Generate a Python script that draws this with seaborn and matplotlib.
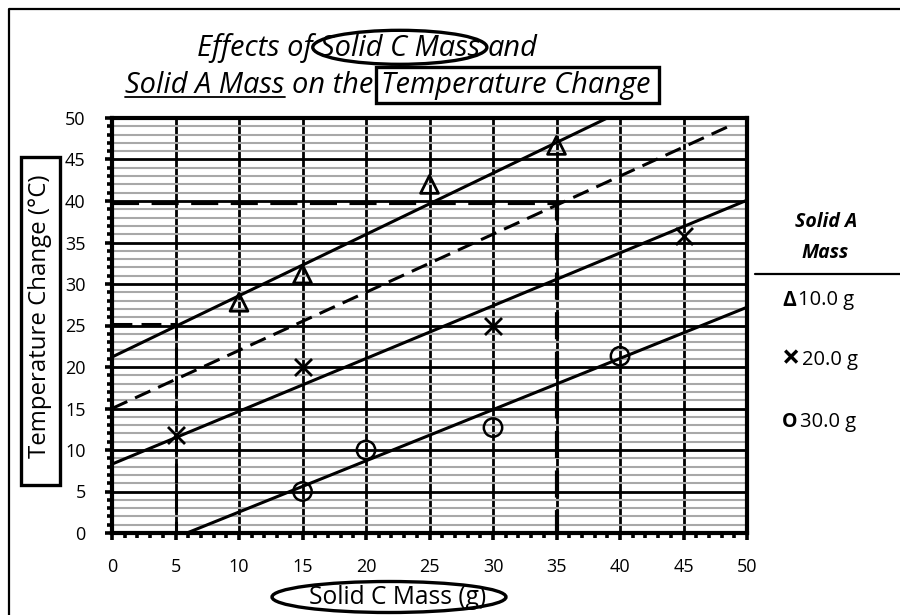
import numpy as np
import pandas as pd
import matplotlib
matplotlib.use("Agg")
import matplotlib.pyplot as plt
import seaborn as sns
from matplotlib.patches import Ellipse, Rectangle
from matplotlib.lines import Line2D
from matplotlib.ticker import MultipleLocator

# ---------------- data ----------------
series_labels = ["10.0 g", "20.0 g", "30.0 g"]
legend_symbols = ["\u0394", "\u00d7", "O"]

x_10g = [10, 15, 25, 35]
y_10g = [27.8, 31.2, 42.0, 46.7]
x_20g = [5, 15, 30, 45]
y_20g = [11.8, 20.0, 25.0, 35.8]
x_30g = [15, 20, 30, 40]
y_30g = [5.0, 10.0, 12.7, 21.3]

# trend lines (end points)
trend_10g_x = [0, 39.0]
trend_10g_y = [21.2, 50.0]
trend_20g_x = [0, 50.0]
trend_20g_y = [8.3, 40.1]
trend_30g_x = [5.9, 50.0]
trend_30g_y = [0.0, 27.2]
trend_15g_x = [0, 49.0]
trend_15g_y = [15.0, 49.3]

# reference (read-off) dashed lines
ref_main_x = [0, 35, 35]
ref_main_y = [39.7, 39.7, 0]
ref_small_x = [0, 5, 5]
ref_small_y = [25.2, 25.2, 0]

x_ticks = list(range(0, 55, 5))
y_ticks = list(range(0, 55, 5))

title_line1 = [("Effects of", None), ("Solid C Mass", "ellipse"), ("and", None)]
title_line2 = [("Solid A Mass", "underline"), ("on the", None), ("Temperature Change", "box")]
x_label = "Solid C Mass (g)"
y_label = "Temperature Change (\u00b0C)"
legend_title = ["Solid A", "Mass"]

# ---------------- figure ----------------
W, H = 900, 615
sns.set_theme(style="white")
plt.rcParams["font.family"] = ["Open Sans", "DejaVu Sans"]

fig = plt.figure(figsize=(W / 100, H / 100), dpi=100)
ax = fig.add_axes([112 / W, 1 - 533 / H, 635 / W, 415 / H])

def fx(px):
    return px / W

def fy(py_top):
    return 1 - py_top / H

# trend lines
for tx, ty, dashed in [(trend_10g_x, trend_10g_y, False),
                       (trend_20g_x, trend_20g_y, False),
                       (trend_30g_x, trend_30g_y, False),
                       (trend_15g_x, trend_15g_y, True)]:
    df = pd.DataFrame({"x": tx, "y": ty})
    sns.lineplot(data=df, x="x", y="y", color="black", lw=2.2,
                 estimator=None, sort=False, ax=ax, zorder=4)
    if dashed:
        ax.lines[-1].set_dashes((5.5, 2.8))

# reference dashed lines
ax.plot(ref_main_x, ref_main_y, color="black", lw=3.0, dashes=(6.5, 3.0),
        zorder=3.5, dash_capstyle="butt")
ax.plot(ref_small_x, ref_small_y, color="black", lw=2.2, dashes=(6.5, 3.0),
        zorder=3.5, dash_capstyle="butt")

# points
sns.scatterplot(x=x_10g, y=y_10g, marker="^", s=165, ax=ax, zorder=6)
c = ax.collections[-1]
c.set_facecolor("none"); c.set_edgecolor("black"); c.set_linewidth(2.0)

sns.scatterplot(x=x_20g, y=y_20g, marker="x", s=150, ax=ax, zorder=6)
c = ax.collections[-1]
c.set_facecolor("black"); c.set_edgecolor("black"); c.set_linewidth(2.0)

sns.scatterplot(x=x_30g, y=y_30g, marker="o", s=175, ax=ax, zorder=6)
c = ax.collections[-1]
c.set_facecolor("none"); c.set_edgecolor("black"); c.set_linewidth(1.8)

# axes
ax.set_xlim(0, 50)
ax.set_ylim(0, 50)
ax.set_xticks(x_ticks)
ax.set_yticks(y_ticks)
ax.set_xticklabels([str(v) for v in x_ticks])
ax.set_yticklabels([str(v) for v in y_ticks])
ax.xaxis.set_minor_locator(MultipleLocator(1))
ax.yaxis.set_minor_locator(MultipleLocator(1))
ax.set_xlabel("")
ax.set_ylabel("")
ax.tick_params(which="major", direction="out", length=5, width=2.6,
               color="black", labelsize=13, labelcolor="black")
ax.tick_params(which="minor", direction="out", length=3.5, width=2.6, color="black")
ax.tick_params(axis="y", which="major", pad=14)
ax.tick_params(axis="x", which="major", pad=13)
ax.tick_params(axis="x", which="both", bottom=True)
ax.tick_params(axis="y", which="both", left=True)

ax.grid(which="major", axis="both", color="black", lw=2.0)
ax.yaxis.grid(which="minor", color="#a8a8a8", lw=1.5)
ax.xaxis.grid(which="minor", visible=False)
ax.set_axisbelow(True)
for sp in ax.spines.values():
    sp.set_visible(True)
    sp.set_color("black")
    sp.set_linewidth(3.0)

# ---------------- text helpers ----------------
renderer = fig.canvas.get_renderer()

def text_w(s, **kw):
    t = fig.text(0, 0, s, **kw)
    w = t.get_window_extent(renderer).width
    t.remove()
    return w

def fit_size(s, target, base=14, **kw):
    return base * target / text_w(s, fontsize=base, **kw)

# ---------------- title ----------------
fs_title = fit_size("Effects of Solid C Mass and", 342, fontstyle="italic")

def place_line(pieces, cx, y_base, fs):
    kw = dict(fontsize=fs, fontstyle="italic", color="black")
    widths = [text_w(p, **kw) for p, _ in pieces]
    sp = text_w("a a", **kw) - text_w("aa", **kw)
    total = sum(widths) + sp * (len(pieces) - 1)
    x = cx - total / 2
    for (p, deco), w in zip(pieces, widths):
        t = fig.text(fx(x), fy(y_base), p, ha="left", va="baseline", **kw)
        bb = t.get_window_extent(renderer)
        if deco == "ellipse":
            cxp = (bb.x0 + bb.x1) / 2
            cyp = H - y_base + fs * 1.389 * 0.30
            e = Ellipse((fx(cxp), cyp / H), (bb.width + 14) / W, 34 / H,
                        transform=fig.transFigure, fill=False, ec="black", lw=2.4)
            fig.add_artist(e)
        elif deco == "underline":
            yy = (H - y_base - 4) / H
            fig.add_artist(Line2D([fx(bb.x0), fx(bb.x1)], [yy, yy],
                                  transform=fig.transFigure, color="black", lw=1.3))
        elif deco == "box":
            top = 67; bot = 103
            fig.add_artist(Rectangle((fx(bb.x0 - 5), fy(bot)), (bb.width + 13) / W,
                                     (bot - top) / H, transform=fig.transFigure,
                                     fill=False, ec="black", lw=2.4))
        x += w + sp

place_line(title_line1, 367, 56, fs_title)
place_line(title_line2, 388, 93, fs_title)

# ---------------- y label ----------------
fs_y = fit_size(y_label, 285)
fig.text(fx(40), fy(316), y_label, rotation=90, ha="center", va="center",
         fontsize=fs_y, color="black")
fig.add_artist(Rectangle((fx(21), fy(485)), 39 / W, 328 / H, transform=fig.transFigure,
                         fill=False, ec="black", lw=2.4))

# ---------------- x label ----------------
fs_x = fit_size(x_label, 178)
fig.text(fx(398), fy(598), x_label, ha="center", va="center", fontsize=fs_x, color="black")
fig.add_artist(Ellipse((fx(389), fy(597)), 234 / W, 31 / H, transform=fig.transFigure,
                       fill=False, ec="black", lw=2.4))

# ---------------- legend ----------------
fig.text(fx(826), fy(222), legend_title[0], ha="center", va="center",
         fontsize=14, fontweight="bold", fontstyle="italic", color="black")
fig.text(fx(825), fy(253), legend_title[1], ha="center", va="center",
         fontsize=14, fontweight="bold", fontstyle="italic", color="black")
fig.add_artist(Line2D([fx(755), fx(900)], [fy(274), fy(274)], transform=fig.transFigure,
                      color="black", lw=1.6))
sym_sizes = {"\u0394": 15, "\u00d7": 23, "O": 14}
for sym, lab, yc in zip(legend_symbols, series_labels, [300, 360, 422]):
    t = fig.text(fx(782), fy(yc), sym, ha="left", va="center", fontsize=sym_sizes[sym],
                 fontweight="bold", color="black")
    bb = t.get_window_extent(renderer)
    fig.text(fx(bb.x1 + 2), fy(yc), lab, ha="left", va="center", fontsize=14.5, color="black")

# ---------------- figure frame (left & top) ----------------
fig.add_artist(Line2D([fx(9), fx(9), fx(900)], [fy(615), fy(9), fy(9)],
                      transform=fig.transFigure, color="black", lw=1.6))

fig.savefig("out.png", dpi=100)
